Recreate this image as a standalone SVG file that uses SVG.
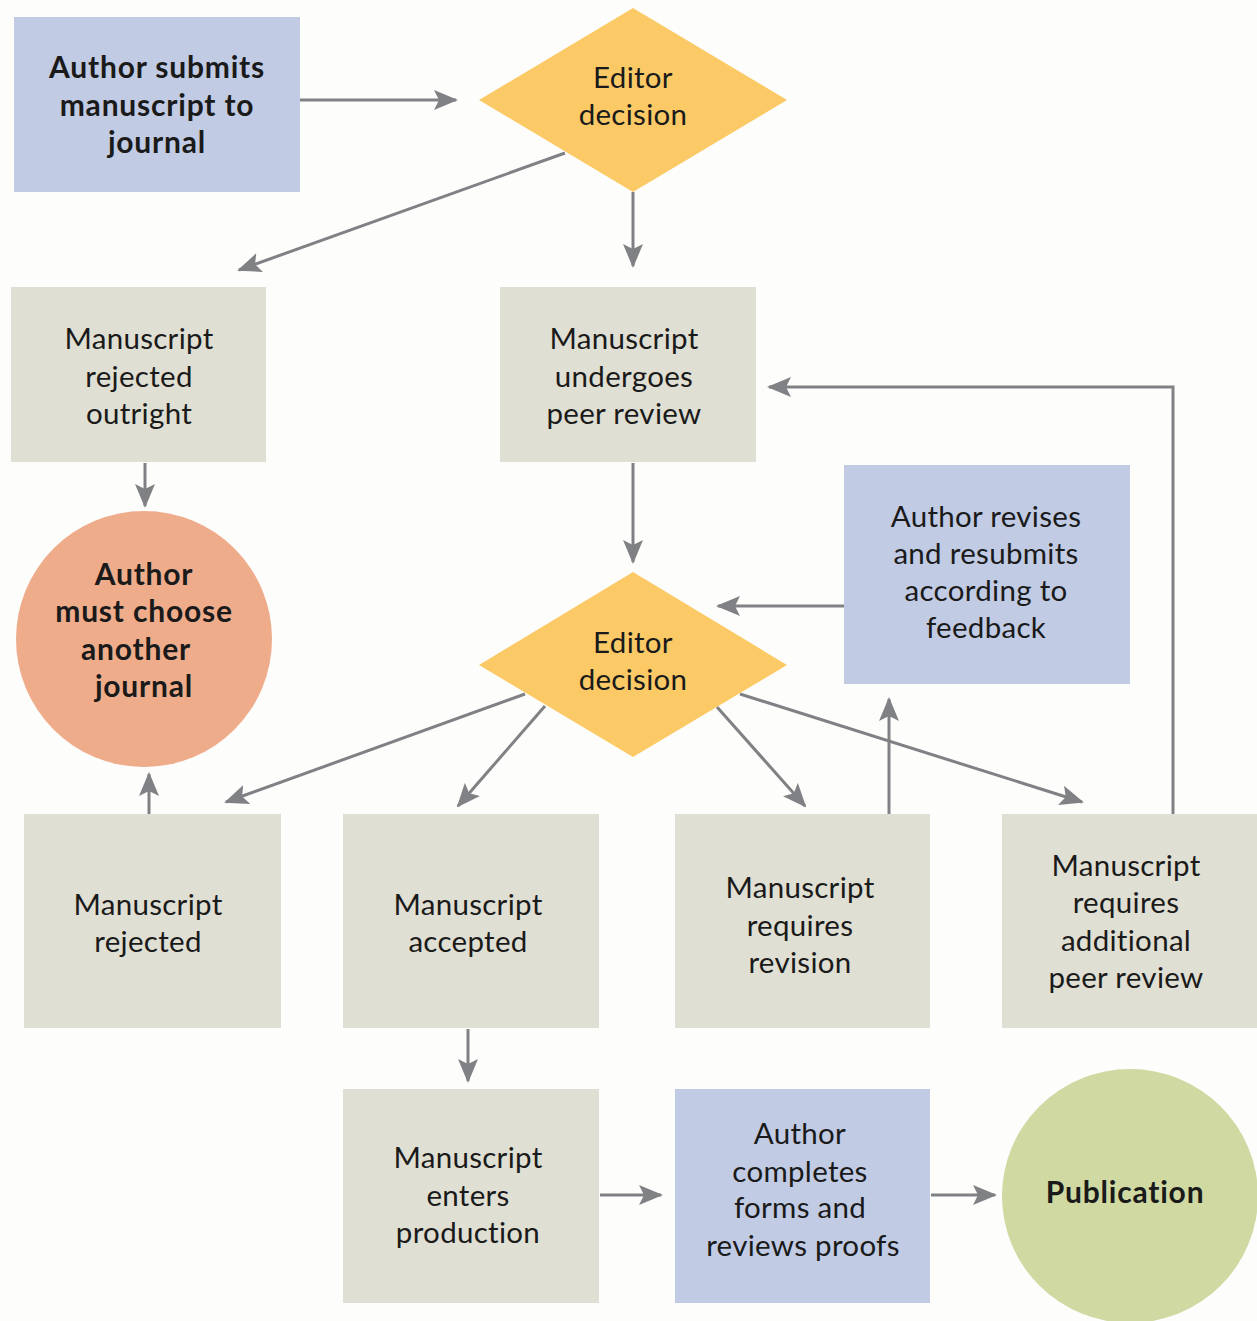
<svg xmlns="http://www.w3.org/2000/svg" width="1257" height="1321" viewBox="0 0 1257 1321">
<defs>
<marker id="ah" viewBox="0 0 12 10" refX="11" refY="5" markerWidth="8" markerHeight="7" markerUnits="strokeWidth" orient="auto">
<path d="M0,0 L12,5 L0,10 L2.5,5 z" fill="#808184"/>
</marker>
<style>
.blue{fill:#c1cbe4}
.beige{fill:#e0dfd3}
.dia{fill:#fbca66}
.t{font-family:Lato,"Open Sans","Liberation Sans",sans-serif;font-size:29.5px;fill:#1a1a1a;text-anchor:middle;letter-spacing:0.3px}
.b{font-weight:bold;font-size:30px;letter-spacing:0.8px}
.c{fill:none;stroke:#808184;stroke-width:3;marker-end:url(#ah)}
</style>
</defs>
<rect width="1257" height="1321" fill="#fdfdfc"/>
<g id="connectors">
<line class="c" x1="300" y1="100" x2="456" y2="100"/>
<line class="c" x1="565" y1="153" x2="239" y2="270"/>
<line class="c" x1="633" y1="192" x2="633" y2="266"/>
<line class="c" x1="145" y1="463" x2="145" y2="506"/>
<line class="c" x1="633" y1="463" x2="633" y2="562"/>
<line class="c" x1="844" y1="606" x2="718" y2="606"/>
<polyline class="c" points="1173,814 1173,387 769,387"/>
<line class="c" x1="889" y1="814" x2="889" y2="699"/>
<line class="c" x1="525" y1="694" x2="226" y2="802"/>
<line class="c" x1="545" y1="706" x2="458" y2="806"/>
<line class="c" x1="717" y1="707" x2="805" y2="806"/>
<line class="c" x1="740" y1="694" x2="1082" y2="802"/>
<line class="c" x1="149" y1="814" x2="149" y2="774"/>
<line class="c" x1="468" y1="1029" x2="468" y2="1081"/>
<line class="c" x1="600" y1="1195" x2="661" y2="1195"/>
<line class="c" x1="931" y1="1195" x2="995" y2="1195"/>
</g>
<g id="submit">
<rect class="blue" x="14" y="17" width="286" height="175"/>
<text class="t b" x="157" y="78">Author submits</text>
<text class="t b" x="157" y="116">manuscript to</text>
<text class="t b" x="157" y="153">journal</text>
</g>
<g id="decision1">
<polygon class="dia" points="633,8 787,100 633,192 479,100"/>
<text class="t" x="633" y="88">Editor</text>
<text class="t" x="633" y="125">decision</text>
</g>
<g id="rejected-outright">
<rect class="beige" x="11" y="287" width="255" height="175"/>
<text class="t" x="139" y="349">Manuscript</text>
<text class="t" x="139" y="387">rejected</text>
<text class="t" x="139" y="424">outright</text>
</g>
<g id="peer-review">
<rect class="beige" x="500" y="287" width="256" height="175"/>
<text class="t" x="624" y="349">Manuscript</text>
<text class="t" x="624" y="387">undergoes</text>
<text class="t" x="624" y="424">peer review</text>
</g>
<g id="another-journal">
<circle cx="144" cy="639" r="128" fill="#eeac8b"/>
<text class="t b" x="144" y="585">Author</text>
<text class="t b" x="144" y="622">must choose</text>
<text class="t b" x="136" y="660">another</text>
<text class="t b" x="144" y="697">journal</text>
</g>
<g id="revises">
<rect class="blue" x="844" y="465" width="286" height="219"/>
<text class="t" x="986" y="527">Author revises</text>
<text class="t" x="986" y="564">and resubmits</text>
<text class="t" x="986" y="601">according to</text>
<text class="t" x="986" y="638">feedback</text>
</g>
<g id="decision2">
<polygon class="dia" points="633,572 787,665 633,757 479,665"/>
<text class="t" x="633" y="653">Editor</text>
<text class="t" x="633" y="690">decision</text>
</g>
<g id="rejected">
<rect class="beige" x="24" y="814" width="257" height="214"/>
<text class="t" x="148" y="915">Manuscript</text>
<text class="t" x="148" y="952">rejected</text>
</g>
<g id="accepted">
<rect class="beige" x="343" y="814" width="256" height="214"/>
<text class="t" x="468" y="915">Manuscript</text>
<text class="t" x="468" y="952">accepted</text>
</g>
<g id="revision">
<rect class="beige" x="675" y="814" width="255" height="214"/>
<text class="t" x="800" y="898">Manuscript</text>
<text class="t" x="800" y="936">requires</text>
<text class="t" x="800" y="973">revision</text>
</g>
<g id="additional">
<rect class="beige" x="1002" y="814" width="255" height="214"/>
<text class="t" x="1126" y="876">Manuscript</text>
<text class="t" x="1126" y="913">requires</text>
<text class="t" x="1126" y="951">additional</text>
<text class="t" x="1126" y="988">peer review</text>
</g>
<g id="production">
<rect class="beige" x="343" y="1089" width="256" height="214"/>
<text class="t" x="468" y="1168">Manuscript</text>
<text class="t" x="468" y="1206">enters</text>
<text class="t" x="468" y="1243">production</text>
</g>
<g id="proofs">
<rect class="blue" x="675" y="1089" width="255" height="214"/>
<text class="t" x="800" y="1144">Author</text>
<text class="t" x="800" y="1182">completes</text>
<text class="t" x="800" y="1218">forms and</text>
<text class="t" x="803" y="1256">reviews proofs</text>
</g>
<g id="publication">
<ellipse cx="1130" cy="1196" rx="128" ry="127" fill="#cfd9a1"/>
<text class="t b" x="1125" y="1203">Publication</text>
</g>
</svg>
